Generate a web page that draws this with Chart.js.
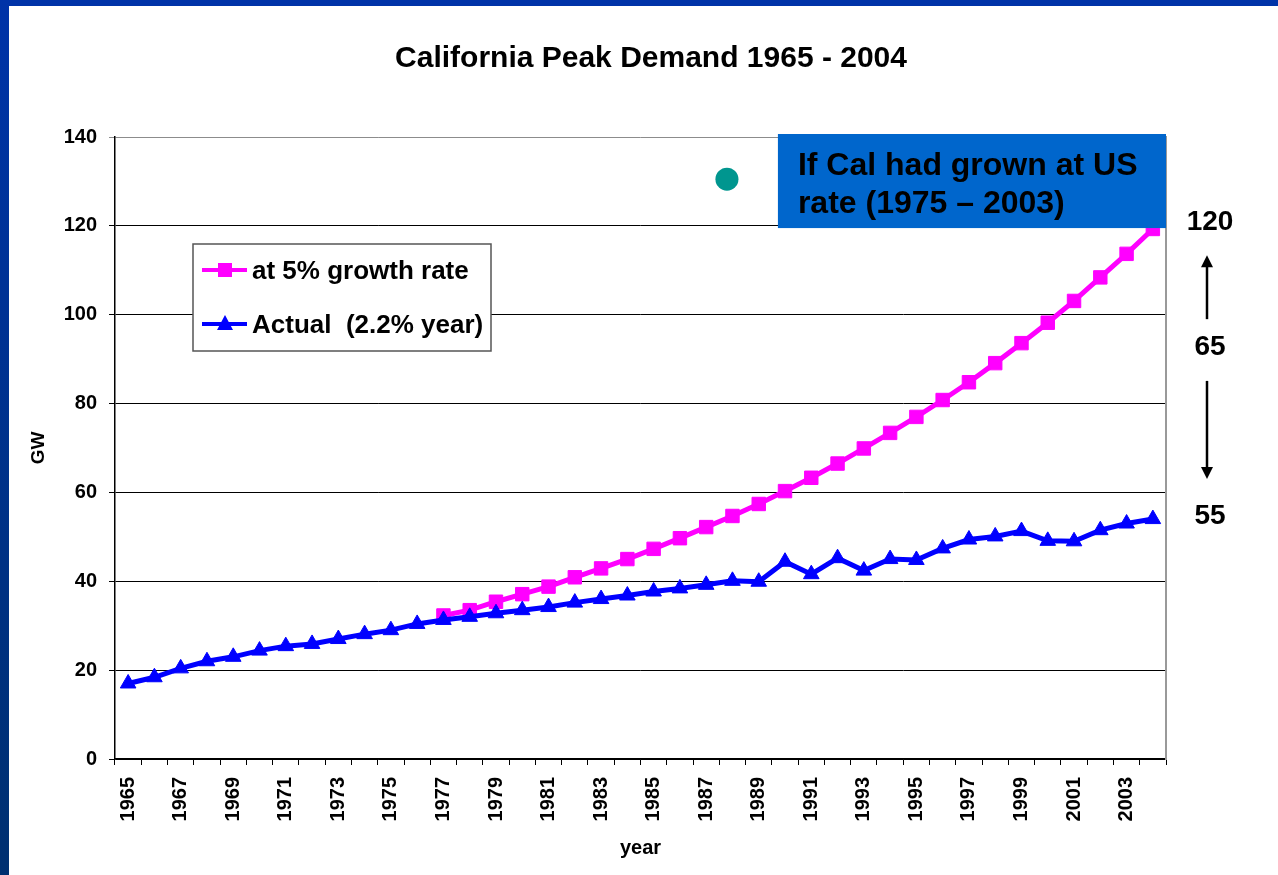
<!DOCTYPE html>
<html>
<head>
<meta charset="utf-8">
<script src="https://cdn.jsdelivr.net/npm/chart.js@4.4.1/dist/chart.umd.min.js"></script>
<style>
html,body{margin:0;padding:0;background:#fff;}
#wrap{position:relative;width:1278px;height:875px;overflow:hidden;background:#fff;}
#topbar{position:absolute;left:0;top:0;width:1278px;height:6px;background:#0033a8;}
#leftbar{position:absolute;left:0;top:0;width:9px;height:875px;background:linear-gradient(#0033a8,#003070);}
canvas{position:absolute;left:0;top:0;}
</style>
</head>
<body>
<div id="wrap">
  <div id="topbar"></div>
  <div id="leftbar"></div>
  <canvas id="c" width="1278" height="875"></canvas>
</div>
<script>
// ---- data ----
const years = ['1965','1966','1967','1968','1969','1970','1971','1972','1973','1974',
               '1975','1976','1977','1978','1979','1980','1981','1982','1983','1984',
               '1985','1986','1987','1988','1989','1990','1991','1992','1993','1994',
               '1995','1996','1997','1998','1999','2000','2001','2002','2003','2004'];

const growth5 = [null,null,null,null,null,null,null,null,null,null,null,null,
                 32.3,33.5,35.4,37.1,38.8,40.9,42.9,45.0,47.3,49.7,
                 52.2,54.7,57.4,60.3,63.3,66.5,69.9,73.4,77.0,80.8,
                 84.8,89.1,93.6,98.2,103.1,108.4,113.7,119.3];

const actual = [17.0,18.4,20.4,22.0,23.0,24.4,25.4,25.9,27.0,28.1,
                29.0,30.4,31.3,32.0,32.8,33.5,34.2,35.2,36.0,36.8,
                37.7,38.4,39.2,40.1,39.9,44.4,41.6,45.2,42.4,45.0,
                44.8,47.4,49.4,50.1,51.3,49.1,49.0,51.5,53.0,54.0];

const yTicks = [0,20,40,60,80,100,120,140];

const seriesLabels = ['at 5% growth rate', 'Actual  (2.2% year)'];
const titleText = 'California Peak Demand 1965 - 2004';
const boxLines = ['If Cal had grown at US', 'rate (1975 \u2013 2003)'];
const sideLabels = ['120', '65', '55'];

// ---- styles ----
const F = "'Liberation Sans', Arial, sans-serif";
const MAGENTA = '#ff00ff';
const BLUE = '#0000ff';

const annotPlugin = {
  id: 'annot',
  afterDraw(chart) {
    const {ctx, chartArea: ca, scales} = chart;
    const x = scales.x, y = scales.y;
    ctx.save();

    // teal dot
    ctx.fillStyle = '#00968f';
    ctx.beginPath();
    ctx.arc(x.getPixelForValue(22.79), y.getPixelForValue(130.5), 11.5, 0, Math.PI * 2);
    ctx.fill();

    // blue text box
    const bl = x.getPixelForValue(24.73);
    const bt = ca.top - 3;
    const bb = y.getPixelForValue(119.5);
    ctx.fillStyle = '#0066cc';
    ctx.fillRect(bl, bt, ca.right - bl, bb - bt);
    ctx.fillStyle = '#000';
    ctx.font = 'bold 32px ' + F;
    ctx.textAlign = 'left';
    ctx.textBaseline = 'alphabetic';
    ctx.fillText(boxLines[0], bl + 20, bt + 41);
    ctx.fillText(boxLines[1], bl + 20, bt + 79);

    // right side labels and arrows
    const cx = ca.right + 44;
    ctx.font = 'bold 28px ' + F;
    ctx.textAlign = 'center';
    ctx.textBaseline = 'middle';
    ctx.fillText(sideLabels[0], cx, y.getPixelForValue(120.9));
    ctx.fillText(sideLabels[1], cx, y.getPixelForValue(92.6));
    ctx.fillText(sideLabels[2], cx, y.getPixelForValue(54.6));

    const ax = ca.right + 41;
    ctx.strokeStyle = '#000';
    ctx.fillStyle = '#000';
    ctx.lineWidth = 2.5;
    // up arrow
    let y1 = y.getPixelForValue(99.0), y2 = y.getPixelForValue(113.4);
    ctx.beginPath(); ctx.moveTo(ax, y1); ctx.lineTo(ax, y2 + 10); ctx.stroke();
    ctx.beginPath(); ctx.moveTo(ax, y2); ctx.lineTo(ax - 6, y2 + 12); ctx.lineTo(ax + 6, y2 + 12); ctx.closePath(); ctx.fill();
    // down arrow
    y1 = y.getPixelForValue(85.1); y2 = y.getPixelForValue(63.0);
    ctx.beginPath(); ctx.moveTo(ax, y1); ctx.lineTo(ax, y2 - 10); ctx.stroke();
    ctx.beginPath(); ctx.moveTo(ax, y2); ctx.lineTo(ax - 6, y2 - 12); ctx.lineTo(ax + 6, y2 - 12); ctx.closePath(); ctx.fill();

    // legend
    const lx = ca.left + 78, ly = ca.top + 107, lw = 298, lh = 107;
    ctx.fillStyle = '#fff';
    ctx.fillRect(lx, ly, lw, lh);
    ctx.strokeStyle = '#555';
    ctx.lineWidth = 1.5;
    ctx.strokeRect(lx, ly, lw, lh);
    const rows = [ly + 26, ly + 80];
    const ds = chart.data.datasets;
    ds.forEach((d, i) => {
      const ry = rows[i];
      ctx.strokeStyle = d.borderColor;
      ctx.lineWidth = 4;
      ctx.beginPath(); ctx.moveTo(lx + 9, ry); ctx.lineTo(lx + 54, ry); ctx.stroke();
      ctx.fillStyle = d.borderColor;
      ctx.beginPath();
      if (d.pointStyle === 'rect') {
        ctx.rect(lx + 32 - 7, ry - 7, 14, 14);
      } else {
        ctx.moveTo(lx + 32, ry - 9); ctx.lineTo(lx + 40, ry + 6); ctx.lineTo(lx + 24, ry + 6); ctx.closePath();
      }
      ctx.fill();
      ctx.fillStyle = '#000';
      ctx.font = 'bold 26px ' + F;
      ctx.textAlign = 'left';
      ctx.textBaseline = 'middle';
      ctx.fillText(d.label, lx + 59, ry + 2);
    });
    ctx.restore();
  }
};

new Chart(document.getElementById('c'), {
  type: 'line',
  data: {
    labels: years,
    datasets: [
      {
        label: seriesLabels[0], data: growth5, order: 1,
        borderColor: MAGENTA, backgroundColor: MAGENTA, borderWidth: 5,
        pointStyle: 'rect', pointRadius: 9.5, pointBorderWidth: 1,
        pointBackgroundColor: MAGENTA, pointBorderColor: MAGENTA,
        tension: 0, spanGaps: false, fill: false
      },
      {
        label: seriesLabels[1], data: actual, order: 0,
        borderColor: BLUE, backgroundColor: BLUE, borderWidth: 5,
        pointStyle: 'triangle', pointRadius: 9, pointBorderWidth: 1,
        pointBackgroundColor: BLUE, pointBorderColor: BLUE,
        tension: 0, fill: false
      }
    ]
  },
  options: {
    responsive: false,
    animation: false,
    devicePixelRatio: 1,
    layout: {padding: {left: 24, right: 0, top: 6, bottom: 0}},
    plugins: {
      legend: {display: false},
      tooltip: {enabled: false},
      title: {
        display: true, text: titleText, color: '#000',
        font: {family: F, size: 30, weight: 'bold', lineHeight: 1.2},
        padding: {top: 35, bottom: 60}
      }
    },
    scales: {
      x: {
        type: 'category',
        offset: true,
        grid: {offset: true, drawOnChartArea: false, drawTicks: true, tickLength: 6, color: '#000', lineWidth: 1},
        border: {display: true, color: '#000', width: 1.5},
        ticks: {
          autoSkip: false, minRotation: 90, maxRotation: 90, padding: 12, color: '#000',
          font: {family: F, size: 20, weight: 'bold'},
          callback: (v, i) => (i % 2 === 0 ? years[i] : '')
        },
        title: {display: true, text: 'year', color: '#000', font: {family: F, size: 20, weight: 'bold', lineHeight: 1.2}, padding: {top: 0, bottom: 15}},
        afterFit: s => { s.height = 116; }
      },
      y: {
        position: 'left',
        min: yTicks[0], max: yTicks[yTicks.length - 1],
        afterBuildTicks: s => { s.ticks = yTicks.map(v => ({value: v})); },
        grid: {
          drawTicks: true, tickLength: 6, lineWidth: 1,
          color: c => (c.tick && c.tick.value === 140 ? '#8c8c8c' : '#000')
        },
        border: {display: true, color: '#000', width: 1.5},
        ticks: {color: '#000', padding: 12, font: {family: F, size: 20, weight: 'bold'}},
        title: {display: true, text: 'GW', color: '#000', font: {family: F, size: 19, weight: 'bold', lineHeight: 1.2}, padding: {top: 3, bottom: 0}},
        afterFit: s => { s.width = 91; }
      },
      y2: {
        position: 'right',
        min: 0, max: 140,
        grid: {drawOnChartArea: false, drawTicks: false},
        border: {display: true, color: '#999', width: 2},
        ticks: {display: false},
        afterFit: s => { s.width = 112; }
      }
    }
  },
  plugins: [annotPlugin]
});
</script>
</body>
</html>
